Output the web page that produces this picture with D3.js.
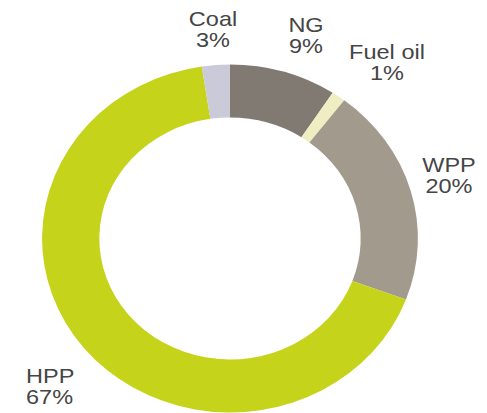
<!DOCTYPE html>
<html><head><meta charset="utf-8">
<script src="https://cdn.jsdelivr.net/npm/d3@7"></script>
<style>html,body{margin:0;padding:0;background:#fff;}svg{display:block;}</style>
</head><body>
<svg id="chart" width="487" height="413"></svg>
<script>
const categories = ["NG", "Fuel oil", "WPP", "HPP", "Coal"];
const shares = [9.2, 1.2, 20.3, 66.9, 2.4];
const labels = ["9%", "1%", "20%", "67%", "3%"];
const colors = ["#807a72", "#eeeec2", "#a39a8e", "#c6d31b", "#cbcad8"];

const svg = d3.select("#chart");
const cx = 230, cy = 238.5, rOuter = 174, rInner = 121, sx = 1.08;

const pie = d3.pie().sort(null).value(d => d.v);
const arcs = pie(categories.map((c, i) => ({c, v: shares[i], color: colors[i]})));
const arc = d3.arc().innerRadius(rInner).outerRadius(rOuter);

const g = svg.append("g").attr("transform", `translate(${cx},${cy}) scale(${sx},1)`);
g.selectAll("path").data(arcs).join("path")
  .attr("d", arc)
  .attr("fill", d => d.data.color);

// label placement (centre x, first baseline, anchor)
const labelPos = {
  "Coal": [213, 26, "middle"],
  "NG": [306, 32, "middle"],
  "Fuel oil": [387, 59, "middle"],
  "WPP": [449, 172, "middle"],
  "HPP": [26, 383, "start"]
};
const lg = svg.append("g")
  .style("font-family", "'Liberation Sans', Arial, sans-serif")
  .style("font-size", "21px")
  .attr("fill", "#454545");
categories.forEach((c, i) => {
  const [x, y, anchor] = labelPos[c];
  const t = lg.append("text")
    .attr("transform", `translate(${x},${y}) scale(1.12,1)`)
    .attr("text-anchor", anchor);
  t.append("tspan").attr("x", 0).attr("y", 0).text(c);
  t.append("tspan").attr("x", 0).attr("y", 21.5).text(labels[i]);
});
</script>
</body></html>
